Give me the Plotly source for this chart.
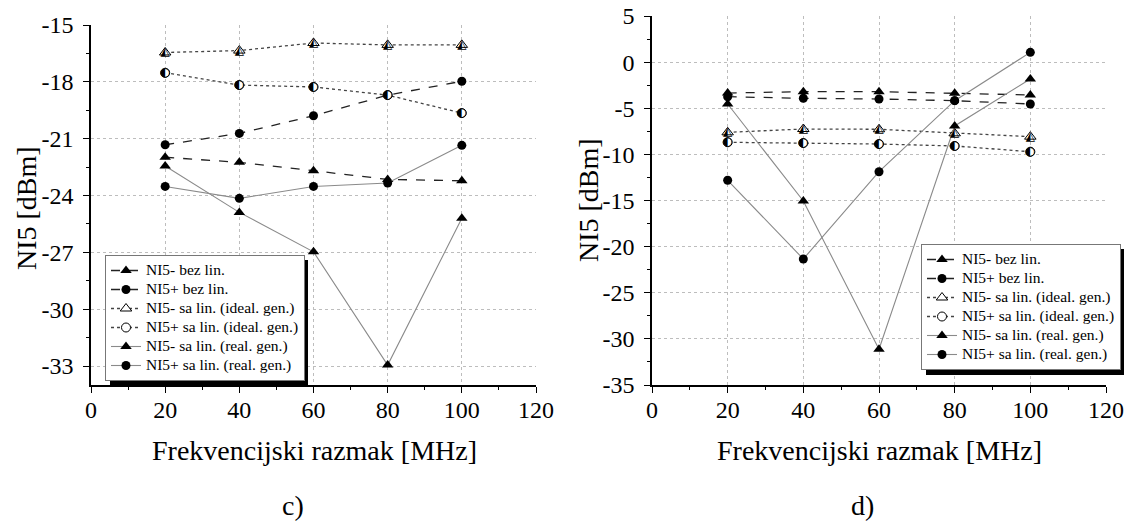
import plotly.graph_objects as go

W, H = 1129, 522

freq = [20, 40, 60, 80, 100]

names = [
    "NI5- bez lin.",
    "NI5+ bez lin.",
    "NI5- sa lin. (ideal. gen.)",
    "NI5+ sa lin. (ideal. gen.)",
    "NI5- sa lin. (real. gen.)",
    "NI5+ sa lin. (real. gen.)",
]

# Panel c)
c_minus_bez = [-21.98, -22.25, -22.69, -23.15, -23.22]
c_plus_bez = [-21.32, -20.72, -19.79, -18.70, -17.97]
c_minus_ideal = [-16.45, -16.35, -15.95, -16.05, -16.05]
c_plus_ideal = [-17.52, -18.17, -18.27, -18.70, -19.65]
c_minus_real = [-22.44, -24.89, -26.97, -32.95, -25.20]
c_plus_real = [-23.52, -24.15, -23.52, -23.34, -21.35]

# Panel d)
d_minus_bez = [-3.35, -3.20, -3.20, -3.38, -3.56]
d_plus_bez = [-3.75, -3.92, -4.00, -4.18, -4.54]
d_minus_ideal = [-7.61, -7.25, -7.28, -7.72, -8.08]
d_plus_ideal = [-8.69, -8.77, -8.88, -9.09, -9.71]
d_minus_real = [-4.54, -15.05, -31.13, -6.92, -1.83]
d_plus_real = [-12.81, -21.34, -11.88, -4.18, 1.06]

# Tick values / labels (hyphen-minus as in the reference)
x_ticks = [0, 20, 40, 60, 80, 100, 120]
x_labels = ["0", "20", "40", "60", "80", "100", "120"]
c_yticks = [-33, -30, -27, -24, -21, -18, -15]
c_ylabels = ["-33", "-30", "-27", "-24", "-21", "-18", "-15"]
d_yticks = [-35, -30, -25, -20, -15, -10, -5, 0, 5]
d_ylabels = ["-35", "-30", "-25", "-20", "-15", "-10", "-5", "0", "5"]

SERIF = "Liberation Serif, Times New Roman, serif"

styles = [
    dict(line=dict(color="#222", width=1.3, dash="dash"), marker=dict(symbol="triangle-up", size=10, color="black")),
    dict(line=dict(color="#222", width=1.3, dash="dash"), marker=dict(symbol="circle", size=9, color="black")),
    dict(line=dict(color="#444", width=1.3, dash="dot"), marker=dict(symbol="triangle-up", size=10, color="white", line=dict(color="black", width=1))),
    dict(line=dict(color="#444", width=1.3, dash="dot"), marker=dict(symbol="circle", size=9, color="white", line=dict(color="black", width=1))),
    dict(line=dict(color="#8a8a8a", width=1.1), marker=dict(symbol="triangle-up", size=10, color="black")),
    dict(line=dict(color="#8a8a8a", width=1.1), marker=dict(symbol="circle", size=9, color="black")),
]
glyphs = [None, None, "\u25ED", "\u25D0", None, None]

LEG_TEXT_PX = 15.5

fig = go.Figure()

def add_panel(series, xa, ya, legend):
    for i, ys in enumerate(series):
        st = styles[i]
        fig.add_trace(go.Scatter(
            x=freq, y=ys, mode="lines+markers",
            name=f'<span style="font-size:{LEG_TEXT_PX}px">{names[i]}</span>',
            line=st["line"], marker=st["marker"],
            xaxis=xa, yaxis=ya, legend=legend, hoverinfo="skip",
        ))
    # half-filled marker overlays
    for i, ys in enumerate(series):
        if glyphs[i]:
            fig.add_trace(go.Scatter(
                x=freq, y=ys, mode="text", text=[glyphs[i]] * len(freq),
                textposition="middle center",
                textfont=dict(family="DejaVu Sans", size=12, color="black"),
                xaxis=xa, yaxis=ya, showlegend=False, hoverinfo="skip",
            ))

add_panel([c_minus_bez, c_plus_bez, c_minus_ideal, c_plus_ideal, c_minus_real, c_plus_real], "x", "y", "legend")
add_panel([d_minus_bez, d_plus_bez, d_minus_ideal, d_plus_ideal, d_minus_real, d_plus_real], "x2", "y2", "legend2")

def px(xp):
    return xp / W

def py(yp):
    return 1 - yp / H

common_axis = dict(
    automargin=False,
    showline=True, linecolor="black", linewidth=1.5,
    ticks="outside", ticklen=6, tickwidth=1.3, tickcolor="black",
    showgrid=True, gridcolor="#bdbdbd", gridwidth=1, griddash="dot",
    zeroline=False,
    tickfont=dict(family=SERIF, size=24, color="black"),
)

xax = dict(common_axis, range=[0, 120], tickmode="array", tickvals=x_ticks, ticktext=x_labels,
           minor=dict(dtick=10, tick0=0, ticks="outside", ticklen=3, tickcolor="black", showgrid=False),
           ticklabelstandoff=-4)

LEG_FONT = 12
fig.update_layout(
    width=W, height=H,
    margin=dict(l=0, r=0, t=0, b=0, autoexpand=False),
    paper_bgcolor="white", plot_bgcolor="white",
    xaxis=dict(xax, domain=[px(91), px(536)], anchor="y"),
    yaxis=dict(common_axis, domain=[py(385), py(25)], anchor="x", range=[-34, -15],
               tickmode="array", tickvals=c_yticks, ticktext=c_ylabels, ticklabelstandoff=5,
               minor=dict(dtick=1.5, tick0=-15, ticks="outside", ticklen=3, tickcolor="black", showgrid=False)),
    xaxis2=dict(xax, domain=[px(652), px(1106)], anchor="y2"),
    yaxis2=dict(common_axis, domain=[py(385), py(16)], anchor="x2", range=[-35, 5],
                tickmode="array", tickvals=d_yticks, ticktext=d_ylabels, ticklabelstandoff=5,
                minor=dict(dtick=2.5, tick0=5, ticks="outside", ticklen=3, tickcolor="black", showgrid=False)),
    legend=dict(x=px(105), y=py(255), xanchor="left", yanchor="top",
                bgcolor="white", bordercolor="#777", borderwidth=1,
                font=dict(family=SERIF, size=LEG_FONT, color="black"),
                tracegroupgap=0, itemwidth=30),
    legend2=dict(x=px(921), y=py(244), xanchor="left", yanchor="top",
                 bgcolor="white", bordercolor="#777", borderwidth=1,
                 font=dict(family=SERIF, size=LEG_FONT, color="black"),
                 tracegroupgap=0, itemwidth=30),
    showlegend=True,
)

# legend drop shadows
fig.add_shape(type="rect", xref="paper", yref="paper",
              x0=px(110), x1=px(308), y0=py(386), y1=py(260),
              fillcolor="black", line=dict(width=0), layer="above")
fig.add_shape(type="rect", xref="paper", yref="paper",
              x0=px(926), x1=px(1124), y0=py(375), y1=py(249),
              fillcolor="black", line=dict(width=0), layer="above")

title_font = dict(family=SERIF, size=28, color="black")
ann = [
    dict(x=px(314), y=py(450), text="Frekvencijski razmak [MHz]"),
    dict(x=px(879), y=py(450), text="Frekvencijski razmak [MHz]"),
    dict(x=px(26), y=py(208), text="NI5 [dBm]", textangle=-90),
    dict(x=px(588), y=py(200), text="NI5 [dBm]", textangle=-90),
    dict(x=px(293), y=py(505), text="c)"),
    dict(x=px(862), y=py(505), text="d)"),
]
for a in ann:
    fig.add_annotation(xref="paper", yref="paper", showarrow=False,
                       xanchor="center", yanchor="middle", font=title_font, **a)

fig.write_html(
    "out.html",
    config={"displayModeBar": False},
    post_script="document.body.style.margin='0px';document.body.style.overflow='hidden';",
)
